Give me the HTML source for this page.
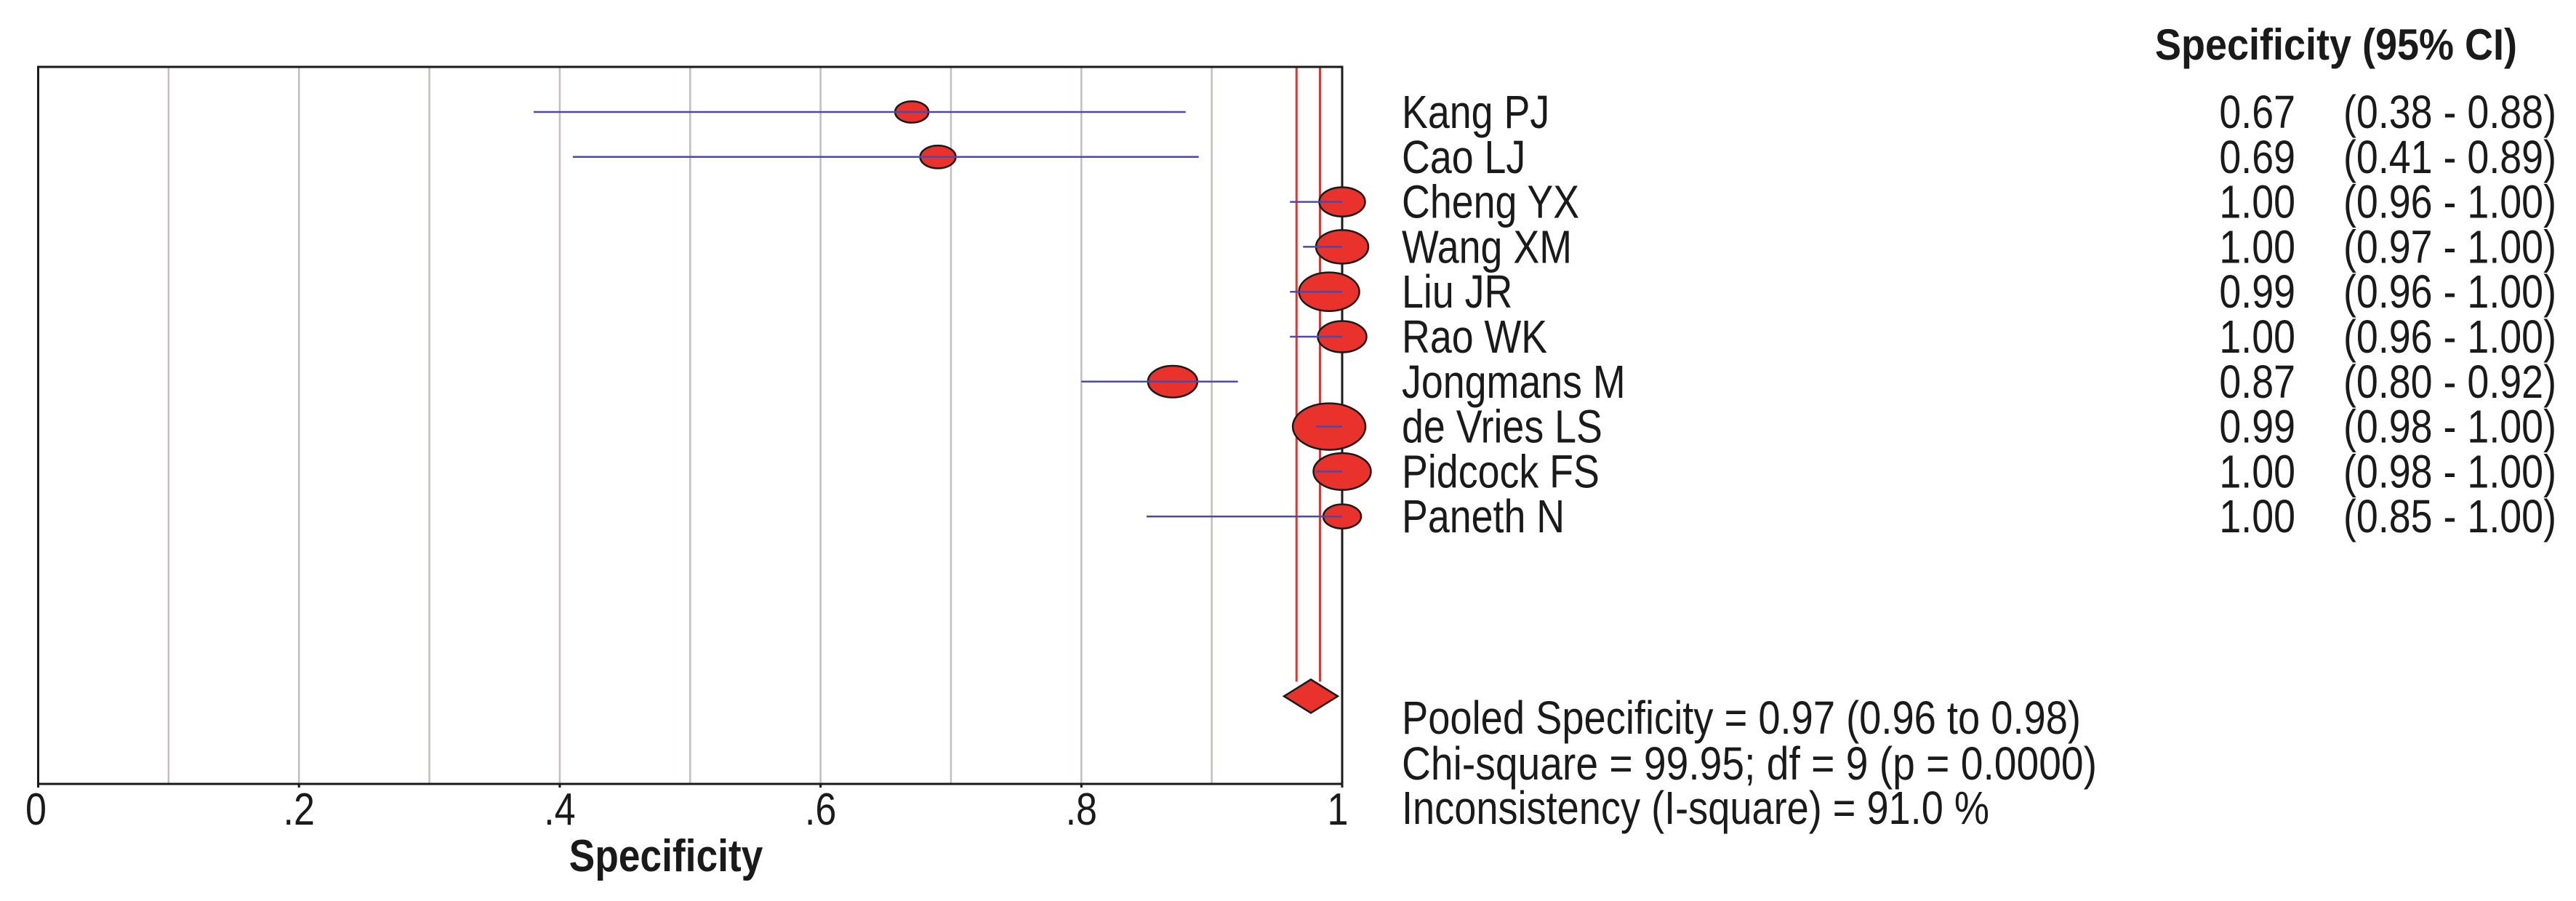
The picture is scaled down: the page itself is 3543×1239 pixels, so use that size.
<!DOCTYPE html>
<html><head><meta charset="utf-8"><style>
html,body{margin:0;padding:0;background:#fff;}
svg{display:block;}
text{font-family:"Liberation Sans Narrow","Liberation Sans",sans-serif;fill:#1a1a1a;}
</style></head><body>
<svg id="chart" width="3543" height="1239" viewBox="0 0 3543 1239" xmlns="http://www.w3.org/2000/svg"></svg>
<script>
const studies = ["Kang PJ","Cao LJ","Cheng YX","Wang XM","Liu JR","Rao WK","Jongmans M","de Vries LS","Pidcock FS","Paneth N"];
const estimates = [0.67,0.69,1.00,1.00,0.99,1.00,0.87,0.99,1.00,1.00];
const ciLow = [0.38,0.41,0.96,0.97,0.96,0.96,0.80,0.98,0.98,0.85];
const ciHigh = [0.88,0.89,1.00,1.00,1.00,1.00,0.92,1.00,1.00,1.00];
const weights = [46,49,63,72,83,67,68,100,79,52];
const pooled = [0.976,0.965,0.983];
const xTicks = [0,0.2,0.4,0.6,0.8,1];
const xTickLabels = ["0",".2",".4",".6",".8","1"];
const gridVals = [0.1,0.2,0.3,0.4,0.5,0.6,0.7,0.8,0.9];
const footerLines = ["Pooled Specificity = 0.97 (0.96 to 0.98)","Chi-square = 99.95; df =  9 (p = 0.0000)","Inconsistency (I-square) = 91.0 %"];

const NS="http://www.w3.org/2000/svg";
const svg=document.getElementById('chart');
const L=52.5,R=1846,T=92,B=1078;
const SX=0.84;
const xs=v=>L+v*(R-L);
const ys=i=>154+i*61.8;
function mk(tag,attrs,parent){const e=document.createElementNS(NS,tag);for(const k in attrs)e.setAttribute(k,attrs[k]);(parent||svg).appendChild(e);return e;}
function ntext(x,y,attrs,sx){const a=Object.assign({x:0,y:0,transform:`translate(${x},${y}) scale(${sx||SX},1)`},attrs);return mk('text',a);}
function fmt(v){return v.toFixed(2);}

gridVals.forEach(v=>{
  const g=mk('line',{x1:xs(v),x2:xs(v),y1:T,y2:B,stroke:'#c4bebe','stroke-width':2.5});
  
  
});
[pooled[1],pooled[2]].forEach(v=>{
  const l=mk('line',{x1:xs(v),x2:xs(v),y1:T,y2:ys(13)-20,stroke:'#e8322b','stroke-width':3});
  
  
});
const fr=mk('rect',{x:L,y:T,width:R-L,height:B-T,fill:'none',stroke:'#1a1a1a','stroke-width':3});


xTicks.forEach((v,i)=>{
  const t=mk('line',{x1:xs(v),x2:xs(v),y1:B,y2:B+5,stroke:'#1a1a1a','stroke-width':3});
  
  
  const tx=ntext(xs(v)+(i==0?-3:(i==5?-6:0)),1134,{'font-size':62,'text-anchor':'middle'});
  tx.textContent=xTickLabels[i];
  
  
});
const xt=ntext(916,1198,{'font-size':62,'font-weight':'bold','text-anchor':'middle'},0.86);
xt.textContent='Specificity';



studies.forEach((s,i)=>{
  const w=weights[i];
  const e=mk('ellipse',{cx:xs(estimates[i]),cy:ys(i),rx:w/2,ry:w*0.32,fill:'#e8322b',stroke:'#1a1a1a','stroke-width':2.5});
  
  
  const c=mk('line',{x1:xs(ciLow[i]),x2:xs(ciHigh[i]),y1:ys(i),y2:ys(i),stroke:'#4a4aa8','stroke-width':2.5});
  
  
  const n=ntext(1928,ys(i)+22,{'font-size':64});
  n.textContent=s;
  
  
  const v=ntext(3157,ys(i)+22,{'font-size':64,'text-anchor':'end'});
  v.textContent=fmt(estimates[i]);
  
  
  const ci=mk('text',{x:3223,y:ys(i)+22,'font-size':64,textLength:293,lengthAdjust:'spacingAndGlyphs'});
  ci.textContent='('+fmt(ciLow[i])+' - '+fmt(ciHigh[i])+')';
  
  
});
const dy=ys(13),dx=xs(pooled[0]);
const d=mk('polygon',{points:`${dx-37},${dy} ${dx},${dy-23} ${dx+37},${dy} ${dx},${dy+23}`,fill:'#e8322b',stroke:'#1a1a1a','stroke-width':2.5});



const h=mk('text',{x:2964,y:82,'font-size':60,'font-weight':'bold',textLength:498,lengthAdjust:'spacingAndGlyphs'});
h.textContent='Specificity (95% CI)';



const fy=[1009,1072,1133],fw=[934,956,808];
footerLines.forEach((s,i)=>{
  const f=mk('text',{x:1928,y:fy[i],'font-size':64,textLength:fw[i],lengthAdjust:'spacingAndGlyphs'});
  f.textContent=s;
  
  
});
</script>
</body></html>
